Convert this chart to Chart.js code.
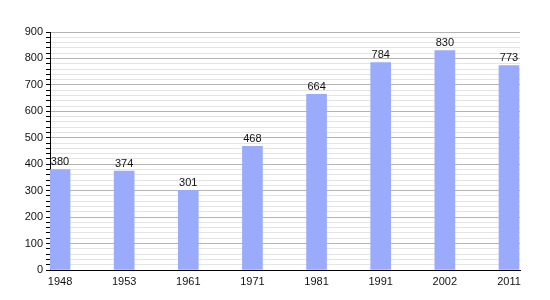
<!DOCTYPE html>
<html>
<head>
<meta charset="utf-8">
<script src="https://cdn.jsdelivr.net/npm/chart.js@4"></script>
<style>
  html, body { margin: 0; padding: 0; background: #fff; }
  #wrap { width: 550px; height: 300px; }
</style>
</head>
<body>
<div id="wrap"><canvas id="chart"></canvas></div>
<script>
// --- Data ---
const years = ['1948', '1953', '1961', '1971', '1981', '1991', '2002', '2011'];
const population = [380, 374, 301, 468, 664, 784, 830, 773];
const yTicks = [0, 100, 200, 300, 400, 500, 600, 700, 800, 900];

// --- Value labels above bars ---
const valueLabels = {
  id: 'valueLabels',
  afterDatasetsDraw(chart) {
    const ctx = chart.ctx;
    const meta = chart.getDatasetMeta(0);
    ctx.save();
    ctx.font = '11px "Liberation Sans", Arial, sans-serif';
    ctx.fillStyle = '#111';
    ctx.textAlign = 'center';
    ctx.textBaseline = 'bottom';
    meta.data.forEach((bar, i) => {
      ctx.fillText(String(population[i]), bar.x, bar.y - 2);
    });
    ctx.restore();
  }
};

new Chart(document.getElementById('chart'), {
  type: 'bar',
  data: {
    datasets: [{
      data: population.map((v, i) => ({ x: i, y: v })),
      backgroundColor: '#9aabfb',
      borderWidth: 0,
      barThickness: 20,
    }]
  },
  options: {
    responsive: true,
    maintainAspectRatio: false,
    animation: false,
    layout: { padding: { top: 32, right: 30, bottom: 0, left: 0 } },
    plugins: { legend: { display: false }, tooltip: { enabled: false } },
    scales: {
      x: {
        type: 'linear',
        offset: false,
        min: -10 / 64,
        max: 7 + 11 / 64,
        afterBuildTicks: s => { s.ticks = years.map((_, i) => ({ value: i })); },
        afterFit: s => { s.height = 30; },
        ticks: {
          callback: v => years[v],
          color: '#111',
          font: { size: 11, family: '"Liberation Sans", Arial, sans-serif' },
          maxRotation: 0,
          padding: 5,
        },
        grid: { display: false, drawTicks: false },
        border: { color: '#000', width: 1 },
      },
      y: {
        min: 0,
        max: 900,
        afterBuildTicks: s => {
          const t = [];
          for (let v = 0; v <= 900; v += 20) t.push({ value: v });
          s.ticks = t;
        },
        afterFit: s => { s.width = 50; },
        ticks: {
          callback: v => (yTicks.includes(v) ? String(v) : ''),
          color: '#111',
          font: { size: 11, family: '"Liberation Sans", Arial, sans-serif' },
          padding: 3,
          autoSkip: false,
        },
        grid: {
          color: c => (c.tick.value % 100 === 0 ? '#b4b4b4' : '#e4e4e4'),
          tickColor: '#000',
          tickLength: 4,
          lineWidth: 1,
        },
        border: { color: '#000', width: 1 },
      }
    }
  },
  plugins: [valueLabels]
});
</script>
</body>
</html>
